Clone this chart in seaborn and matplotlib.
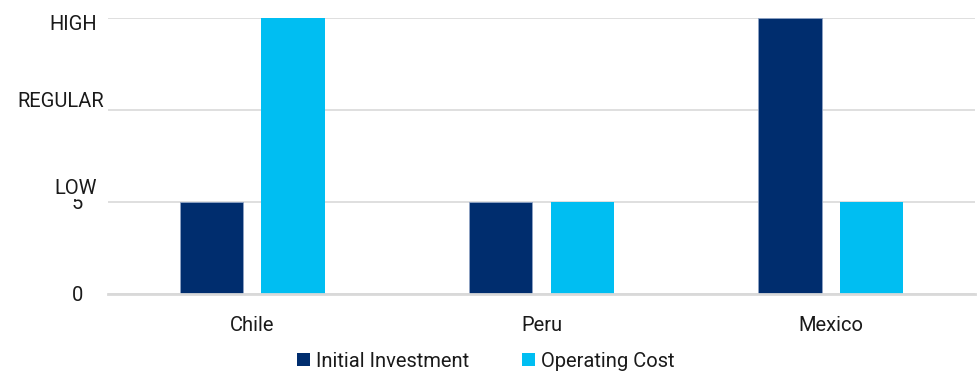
import matplotlib
matplotlib.use("Agg")
import matplotlib.pyplot as plt
import matplotlib.transforms as mtransforms
from matplotlib.patches import Patch
import seaborn as sns
import pandas as pd

countries = ["Chile", "Peru", "Mexico"]
series_names = ["Initial Investment", "Operating Cost"]
initial_investment = [5, 5, 15]
operating_cost = [15, 5, 5]
y_ticks = [0, 5, 10, 15]
y_tick_labels = ["0", "5", "", ""]
level_labels = ["LOW", "REGULAR", "HIGH"]

colors = ["#002D6E", "#00BEF2"]

df = pd.DataFrame({
    "country": countries * 2,
    "series": [series_names[0]] * 3 + [series_names[1]] * 3,
    "value": initial_investment + operating_cost,
})

sns.set_theme(style="white")
plt.rcParams["font.family"] = ["Roboto", "DejaVu Sans"]
FS = 14.5

fig = plt.figure(figsize=(9.77, 3.72), dpi=100)
ax = fig.add_axes([0.1105, 0.2097, 0.8875, 0.9516 - 0.2097])

sns.barplot(data=df, x="country", y="value", hue="series", palette=colors,
            width=0.567, gap=0.22, ax=ax, legend=False, saturation=1)
for p in ax.patches[:3]:
    p.set_edgecolor("#8fa3c4")
    p.set_linewidth(0.6)
for p in ax.patches[3:6]:
    p.set_edgecolor("none")

ax.set_ylim(0, 15)
ax.set_xlim(-0.5, 2.5)
ax.set_yticks(y_ticks)
ax.set_yticklabels(y_tick_labels, fontsize=FS, color="#1a1a1a")
ax.tick_params(axis="y", length=0, pad=18)
ax.tick_params(axis="x", length=0, pad=16, labelsize=FS, labelcolor="#1a1a1a")
ax.set_xlabel("")
ax.set_ylabel("")
ax.yaxis.grid(True, color="#d9d9d9", linewidth=1.2)
ax.set_axisbelow(True)
for s in ["top", "right", "left"]:
    ax.spines[s].set_visible(False)
ax.spines["bottom"].set_color("#d9d9d9")
ax.spines["bottom"].set_linewidth(2)

trans = mtransforms.blended_transform_factory(ax.transAxes, ax.transData)
level_pos = [(-0.0127, 5.72), (-0.0046, 10.45), (-0.0127, 14.65)]
for lab, (xx, yy) in zip(level_labels, level_pos):
    ax.text(xx, yy, lab, transform=trans, ha="right", va="center",
            fontsize=FS, color="#1a1a1a", clip_on=False, zorder=10,
            bbox=dict(facecolor="white", edgecolor="none", pad=0.3))

handles = [Patch(facecolor=c, edgecolor="none") for c in colors]
fig.legend(handles, series_names, loc="lower center", ncol=2, frameon=False,
           fontsize=FS, bbox_to_anchor=(0.497, -0.045), handlelength=0.65,
           handleheight=0.65, handletextpad=0.3, columnspacing=2.6,
           labelcolor="#1a1a1a")

fig.savefig("out.png", dpi=100)
